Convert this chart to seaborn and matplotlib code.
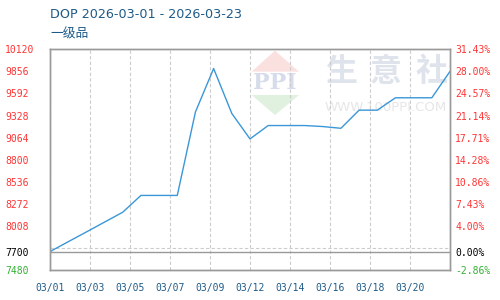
import numpy as np
import pandas as pd
import matplotlib
matplotlib.use("Agg")
import matplotlib.pyplot as plt
import seaborn as sns
from matplotlib.patches import Polygon

# ---- data ----
dates = ["03/01", "03/02", "03/03", "03/04", "03/05", "03/06", "03/07", "03/08",
         "03/09", "03/10", "03/11", "03/12", "03/13", "03/14", "03/15", "03/16",
         "03/17", "03/18", "03/19", "03/20", "03/21", "03/22", "03/23"]
prices = [7700, 7818, 7935, 8053, 8171, 8372, 8372, 8372,
          9371, 9890, 9352, 9048, 9208, 9208, 9208, 9196,
          9175, 9392, 9392, 9540, 9540, 9540, 9856]
xtick_labels = ["03/01", "03/03", "03/05", "03/07", "03/09",
                "03/12", "03/14", "03/16", "03/18", "03/20"]
ytick_values = [7480, 7700, 8008, 8272, 8536, 8800, 9064, 9328, 9592, 9856, 10120]
pct_labels = ["-2.86%", "0.00%", "4.00%", "7.43%", "10.86%", "14.28%",
              "17.71%", "21.14%", "24.57%", "28.00%", "31.43%"]
base_price = 7700
title = "DOP 2026-03-01 - 2026-03-23"
subtitle = "一级品"

sns.set_theme(style="white")
plt.rcParams["font.family"] = ["DejaVu Sans", "Noto Sans CJK SC"]

df = pd.DataFrame({"date": pd.to_datetime(["2026/" + d for d in dates]), "price": prices})
df["day"] = (df["date"] - df["date"].iloc[0]).dt.days

RED, GREEN, BLACK, GRAY = "#ff3333", "#33b033", "#000000", "#999999"
BLUE_TXT = "#1d5b88"

fig = plt.figure(figsize=(5, 3), dpi=100)
ax = fig.add_axes([0.1, 0.1, 0.8, 0.7357])

# watermark
wm = dict(transform=ax.transAxes, zorder=0)
ax.add_patch(Polygon([[0.5625, 0.994], [0.504, 0.8985], [0.6225, 0.8985]],
                     closed=True, fc="#fbe0e0", ec="none", **wm))
ax.add_patch(Polygon([[0.504, 0.793], [0.6225, 0.793], [0.5625, 0.702]],
                     closed=True, fc="#e0f1e0", ec="none", **wm))
ax.text(0.5625, 0.846, "PPI", ha="center", va="center", fontsize=16,
        family="DejaVu Serif", weight="bold", color="#d6dceb", **wm)
for cx, ch in zip([0.7275, 0.84, 0.955], "生意社"):
    ax.text(cx, 0.895, ch, ha="center", va="center", fontsize=23,
            family="Noto Sans CJK SC", weight="bold", color="#dfe3ec", **wm)
ax.text(0.839, 0.7385, "WWW.100PPI.COM", ha="center", va="center",
        fontsize=9.5, color="#e6e6e6", **wm)

sns.lineplot(data=df, x="day", y="price", ax=ax, color="#3a97d8", lw=1.0, zorder=5)

span = df["day"].iloc[-1]
ax.set_xlim(0, span)
ax.set_ylim(ytick_values[0], ytick_values[-1])
ax.set_xlabel("")
ax.set_ylabel("")

xt = np.linspace(0, span, 11)[:-1]
ax.set_xticks(xt)
ax.set_xticklabels(xtick_labels)
ax.set_yticks(ytick_values)
ax.set_yticklabels([str(v) for v in ytick_values])
grid_vals = np.arange(ytick_values[0] + 264, ytick_values[-1], 264)
ax.set_yticks(grid_vals, minor=True)

ax.grid(False)
ax.xaxis.grid(True, which="major", ls=(0, (3, 2)), color="#cccccc", lw=0.8)
ax.yaxis.grid(True, which="minor", ls=(0, (3, 2)), color="#cccccc", lw=0.8)
ax.axhline(base_price, color=GRAY, lw=1.0, zorder=2)

ax.tick_params(axis="x", length=0, pad=9, labelsize=7, labelcolor=BLUE_TXT)
ax.tick_params(axis="y", which="both", length=0, pad=32.4, labelsize=7)
for lab in ax.get_xticklabels():
    lab.set_family("DejaVu Sans Mono")


def col(v):
    return BLACK if v == base_price else (GREEN if v < base_price else RED)


for lab, v in zip(ax.get_yticklabels(), ytick_values):
    lab.set_ha("left")
    lab.set_color(col(v))
    lab.set_family("DejaVu Sans Mono")

for sp in ax.spines.values():
    sp.set_color(GRAY)
    sp.set_linewidth(1.0)

ax2 = ax.twinx()
ax2.set_ylim(ytick_values[0], ytick_values[-1])
ax2.set_yticks(ytick_values)
ax2.set_yticklabels(pct_labels)
ax2.tick_params(axis="y", length=0, pad=3.6, labelsize=7)
ax2.grid(False)
for lab, v in zip(ax2.get_yticklabels(), ytick_values):
    lab.set_color(col(v))
    lab.set_family("DejaVu Sans Mono")
for sp in ax2.spines.values():
    sp.set_color(GRAY)
    sp.set_linewidth(1.0)

fig.text(0.1, 1 - 15 / 300, title, ha="left", va="center", fontsize=9.2, color=BLUE_TXT)
fig.text(0.1, 1 - 34 / 300, subtitle, ha="left", va="center", fontsize=9.2,
         color=BLUE_TXT, family=["Noto Sans CJK SC", "DejaVu Sans"])

fig.savefig("out.png", dpi=100)
